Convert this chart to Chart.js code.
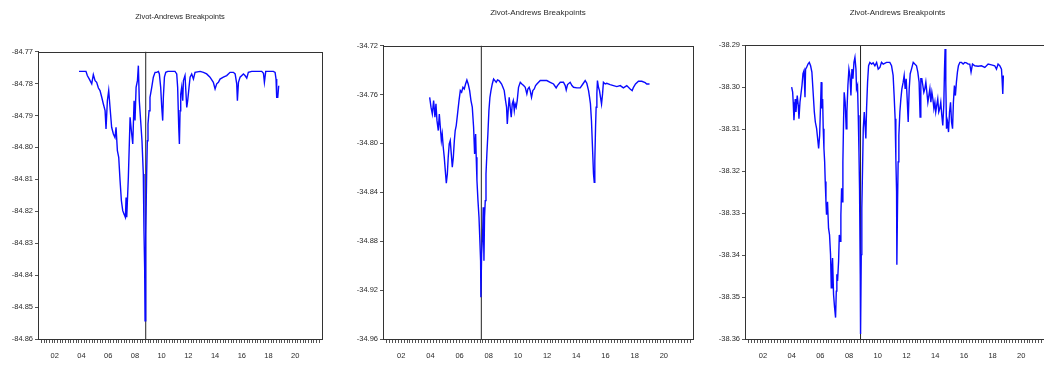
<!DOCTYPE html>
<html>
<head>
<meta charset="utf-8">
<script src="https://cdn.jsdelivr.net/npm/chart.js@4.4.1/dist/chart.umd.min.js"></script>
<style>
  html, body { margin:0; padding:0; background:#fff; width:1044px; height:367px; overflow:hidden; }
  canvas { position:absolute; top:0; }
</style>
</head>
<body>
<canvas id="c1"></canvas>
<canvas id="c2"></canvas>
<canvas id="c3"></canvas>
<script>
// ---------------- DATA ----------------
const chartTitle = 'Zivot-Andrews Breakpoints';
const xLabelYears = [2002, 2004, 2006, 2008, 2010, 2012, 2014, 2016, 2018, 2020];
const xTickLabels = ['02', '04', '06', '08', '10', '12', '14', '16', '18', '20'];

// Panel 1
const p1Years = [2003.82,2004.34,2004.44,2004.59,2004.77,2004.89,2005.02,2005.14,2005.27,2005.39,2005.52,2005.64,2005.77,2005.84,2005.94,2006.04,2006.14,2006.26,2006.39,2006.51,2006.59,2006.69,2006.79,2006.89,2006.99,2007.09,2007.19,2007.29,2007.34,2007.39,2007.44,2007.51,2007.59,2007.64,2007.76,2007.84,2007.94,2008.01,2008.09,2008.19,2008.26,2008.33,2008.43,2008.53,2008.63,2008.68,2008.73,2008.76,2008.81,2008.88,2008.93,2008.98,2009.06,2009.13,2009.26,2009.38,2009.51,2009.63,2009.76,2009.83,2009.93,2010.01,2010.08,2010.13,2010.21,2010.31,2010.46,2010.76,2011.00,2011.13,2011.20,2011.28,2011.33,2011.38,2011.43,2011.50,2011.58,2011.63,2011.75,2011.88,2011.95,2012.05,2012.13,2012.25,2012.38,2012.50,2012.88,2013.13,2013.37,2013.62,2013.87,2014.00,2014.12,2014.25,2014.37,2014.62,2014.87,2015.12,2015.37,2015.50,2015.62,2015.67,2015.75,2015.87,2016.12,2016.24,2016.37,2016.49,2016.74,2017.49,2017.62,2017.69,2017.79,2018.36,2018.49,2018.56,2018.61,2018.69,2018.76];
const p1Values = [-84.7762,-84.7762,-84.7775,-84.7786,-84.7801,-84.7772,-84.7791,-84.7796,-84.7814,-84.7822,-84.7843,-84.7864,-84.7885,-84.7942,-84.7854,-84.7822,-84.7875,-84.7937,-84.7958,-84.7969,-84.7937,-84.8010,-84.8031,-84.8104,-84.8167,-84.8198,-84.8209,-84.8219,-84.8157,-84.8219,-84.8167,-84.8094,-84.7979,-84.7906,-84.7958,-84.7989,-84.7854,-84.7916,-84.7812,-84.7791,-84.7744,-84.7854,-84.7916,-84.7979,-84.8083,-84.8261,-84.8376,-84.8543,-84.8272,-84.8083,-84.7979,-84.7927,-84.7885,-84.7843,-84.7812,-84.7780,-84.7765,-84.7765,-84.7762,-84.7770,-84.7812,-84.7875,-84.7916,-84.7843,-84.7780,-84.7765,-84.7762,-84.7762,-84.7762,-84.7770,-84.7812,-84.7937,-84.7989,-84.7885,-84.7833,-84.7812,-84.7854,-84.7791,-84.7775,-84.7875,-84.7854,-84.7812,-84.7780,-84.7770,-84.7786,-84.7765,-84.7762,-84.7765,-84.7770,-84.7780,-84.7796,-84.7817,-84.7801,-84.7796,-84.7786,-84.7780,-84.7775,-84.7765,-84.7765,-84.7770,-84.7801,-84.7854,-84.7796,-84.7780,-84.7770,-84.7775,-84.7783,-84.7765,-84.7762,-84.7762,-84.7768,-84.7796,-84.7762,-84.7762,-84.7765,-84.7786,-84.7843,-84.7843,-84.7807];
const p1Break = 2008.81;
const p1YTicks = [-84.86,-84.85,-84.84,-84.83,-84.82,-84.81,-84.80,-84.79,-84.78,-84.77];

// Panel 2
const p2Years = [2003.95,2004.04,2004.13,2004.22,2004.31,2004.38,2004.45,2004.54,2004.61,2004.68,2004.75,2004.81,2004.88,2004.95,2005.02,2005.09,2005.16,2005.22,2005.29,2005.36,2005.43,2005.50,2005.57,2005.64,2005.70,2005.77,2005.86,2005.96,2006.05,2006.14,2006.23,2006.32,2006.41,2006.50,2006.59,2006.69,2006.78,2006.87,2006.96,2007.03,2007.10,2007.14,2007.19,2007.26,2007.33,2007.39,2007.44,2007.46,2007.51,2007.58,2007.62,2007.67,2007.71,2007.76,2007.81,2007.87,2007.94,2008.01,2008.08,2008.15,2008.24,2008.33,2008.42,2008.51,2008.60,2008.70,2008.79,2008.88,2008.97,2009.06,2009.15,2009.22,2009.27,2009.33,2009.40,2009.47,2009.54,2009.61,2009.68,2009.75,2009.81,2009.88,2009.95,2010.04,2010.16,2010.27,2010.39,2010.50,2010.61,2010.68,2010.77,2010.84,2010.93,2011.02,2011.12,2011.21,2011.30,2011.53,2011.75,2011.98,2012.21,2012.44,2012.62,2012.71,2012.90,2013.12,2013.24,2013.31,2013.40,2013.58,2013.70,2013.81,2014.04,2014.27,2014.45,2014.61,2014.72,2014.84,2014.91,2014.97,2015.04,2015.11,2015.18,2015.23,2015.27,2015.32,2015.36,2015.41,2015.45,2015.52,2015.59,2015.66,2015.73,2015.80,2015.86,2015.98,2016.09,2016.32,2016.55,2016.78,2017.01,2017.23,2017.46,2017.69,2017.83,2017.92,2018.06,2018.26,2018.49,2018.72,2018.83,2019.02];
const p2Values = [-34.7623,-34.7704,-34.7759,-34.7650,-34.7786,-34.7677,-34.7814,-34.7895,-34.7759,-34.7868,-34.7977,-34.7923,-34.8032,-34.8114,-34.8223,-34.8326,-34.8250,-34.8114,-34.8004,-34.7977,-34.8086,-34.8195,-34.8114,-34.7977,-34.7895,-34.7854,-34.7759,-34.7650,-34.7568,-34.7582,-34.7541,-34.7555,-34.7514,-34.7481,-34.7514,-34.7568,-34.7650,-34.7704,-34.7868,-34.8086,-34.7923,-34.8114,-34.8304,-34.8468,-34.8604,-34.8795,-34.8959,-34.9259,-34.8904,-34.8741,-34.8523,-34.8959,-34.8604,-34.8468,-34.8250,-34.8086,-34.7923,-34.7732,-34.7623,-34.7568,-34.7514,-34.7473,-34.7486,-34.7500,-34.7481,-34.7486,-34.7500,-34.7514,-34.7541,-34.7568,-34.7650,-34.7704,-34.7841,-34.7732,-34.7623,-34.7704,-34.7786,-34.7677,-34.7650,-34.7732,-34.7677,-34.7704,-34.7650,-34.7541,-34.7500,-34.7514,-34.7527,-34.7541,-34.7595,-34.7555,-34.7541,-34.7568,-34.7623,-34.7568,-34.7555,-34.7527,-34.7514,-34.7486,-34.7486,-34.7486,-34.7500,-34.7514,-34.7546,-34.7527,-34.7500,-34.7500,-34.7527,-34.7563,-34.7519,-34.7500,-34.7527,-34.7541,-34.7546,-34.7546,-34.7514,-34.7486,-34.7508,-34.7568,-34.7623,-34.7677,-34.7814,-34.8032,-34.8250,-34.8318,-34.8141,-34.7868,-34.7704,-34.7595,-34.7486,-34.7541,-34.7568,-34.7623,-34.7677,-34.7595,-34.7500,-34.7514,-34.7508,-34.7519,-34.7527,-34.7535,-34.7527,-34.7546,-34.7527,-34.7555,-34.7568,-34.7541,-34.7514,-34.7492,-34.7492,-34.7503,-34.7514,-34.7514];
const p2Break = 2007.49;
const p2YTicks = [-34.96,-34.92,-34.88,-34.84,-34.80,-34.76,-34.72];

// Panel 3
const p3Years = [2004.00,2004.07,2004.11,2004.16,2004.21,2004.25,2004.30,2004.35,2004.39,2004.46,2004.51,2004.58,2004.65,2004.72,2004.79,2004.86,2004.93,2004.97,2005.04,2005.14,2005.23,2005.32,2005.41,2005.51,2005.58,2005.65,2005.74,2005.81,2005.88,2005.95,2006.02,2006.06,2006.11,2006.16,2006.20,2006.25,2006.30,2006.34,2006.39,2006.43,2006.50,2006.57,2006.64,2006.71,2006.76,2006.81,2006.85,2006.92,2006.99,2007.06,2007.11,2007.15,2007.20,2007.27,2007.32,2007.39,2007.43,2007.48,2007.53,2007.57,2007.62,2007.66,2007.73,2007.80,2007.85,2007.92,2007.99,2008.06,2008.13,2008.20,2008.27,2008.34,2008.41,2008.48,2008.52,2008.59,2008.64,2008.69,2008.73,2008.78,2008.80,2008.85,2008.89,2008.94,2008.99,2009.06,2009.13,2009.17,2009.22,2009.29,2009.36,2009.45,2009.57,2009.68,2009.80,2009.92,2010.03,2010.15,2010.26,2010.38,2010.61,2010.84,2010.96,2011.07,2011.14,2011.21,2011.26,2011.31,2011.33,2011.38,2011.42,2011.47,2011.54,2011.61,2011.68,2011.77,2011.84,2011.91,2011.98,2012.05,2012.12,2012.19,2012.26,2012.35,2012.47,2012.58,2012.70,2012.79,2012.88,2012.95,2013.00,2013.07,2013.14,2013.21,2013.28,2013.35,2013.42,2013.49,2013.56,2013.63,2013.70,2013.77,2013.84,2013.91,2013.98,2014.04,2014.11,2014.18,2014.25,2014.32,2014.39,2014.46,2014.53,2014.60,2014.65,2014.69,2014.74,2014.79,2014.86,2014.93,2015.00,2015.07,2015.14,2015.21,2015.27,2015.34,2015.41,2015.48,2015.55,2015.62,2015.72,2015.83,2015.95,2016.06,2016.18,2016.30,2016.41,2016.50,2016.60,2016.76,2016.99,2017.22,2017.46,2017.69,2017.92,2018.15,2018.27,2018.38,2018.50,2018.62,2018.66,2018.71,2018.75];
const p3Values = [-38.3000,-38.3012,-38.3036,-38.3079,-38.3051,-38.3028,-38.3059,-38.3036,-38.3020,-38.3043,-38.3075,-38.3036,-38.3016,-38.2996,-38.2968,-38.2961,-38.3024,-38.2957,-38.2953,-38.2945,-38.2941,-38.2949,-38.2964,-38.3020,-38.3059,-38.3083,-38.3099,-38.3122,-38.3146,-38.3115,-38.3036,-38.2988,-38.3051,-38.3028,-38.3099,-38.3146,-38.3178,-38.3225,-38.3273,-38.3304,-38.3273,-38.3336,-38.3352,-38.3399,-38.3478,-38.3430,-38.3407,-38.3494,-38.3525,-38.3549,-38.3486,-38.3446,-38.3462,-38.3415,-38.3352,-38.3367,-38.3304,-38.3241,-38.3273,-38.3178,-38.3075,-38.3012,-38.3036,-38.3099,-38.3059,-38.2996,-38.2957,-38.2972,-38.3020,-38.2957,-38.2980,-38.2941,-38.2929,-38.2957,-38.3004,-38.2996,-38.3067,-38.3154,-38.3241,-38.3446,-38.3588,-38.3399,-38.3288,-38.3194,-38.3099,-38.3059,-38.3099,-38.3122,-38.3051,-38.2988,-38.2949,-38.2941,-38.2945,-38.2942,-38.2949,-38.2941,-38.2957,-38.2953,-38.2941,-38.2945,-38.2941,-38.2941,-38.2949,-38.2972,-38.3020,-38.3075,-38.3170,-38.3249,-38.3423,-38.3273,-38.3178,-38.3115,-38.3059,-38.3028,-38.3004,-38.2988,-38.2972,-38.3004,-38.2980,-38.3028,-38.3083,-38.3004,-38.2968,-38.2957,-38.2941,-38.2945,-38.2949,-38.2964,-38.2988,-38.3071,-38.2980,-38.2980,-38.2996,-38.3012,-38.3004,-38.2988,-38.3012,-38.3036,-38.3020,-38.3004,-38.3036,-38.3012,-38.3028,-38.3051,-38.3036,-38.3059,-38.3043,-38.3028,-38.3059,-38.3051,-38.3036,-38.3067,-38.3091,-38.3043,-38.2957,-38.2909,-38.2988,-38.3099,-38.3083,-38.3107,-38.3059,-38.3036,-38.3083,-38.3099,-38.3036,-38.2996,-38.3020,-38.2988,-38.2964,-38.2949,-38.2941,-38.2941,-38.2945,-38.2941,-38.2942,-38.2945,-38.2945,-38.2964,-38.2945,-38.2949,-38.2950,-38.2949,-38.2953,-38.2945,-38.2947,-38.2949,-38.2957,-38.2945,-38.2949,-38.2957,-38.2980,-38.3016,-38.2972];
const p3Break = 2008.80;
const p3YTicks = [-38.36,-38.35,-38.34,-38.33,-38.32,-38.31,-38.30,-38.29];

// ---------------- LAYOUT / STYLE ----------------
const X_MIN = 2000.75, X_MAX = 2022.0;
const FONT = 'Liberation Sans, Arial, sans-serif';
const TEXT_COLOR = '#2a2a2a';
const AXIS_COLOR = '#333';

const panels = [
  { id:'c1', left:0,   width:340, years:p1Years, values:p1Values, brk:p1Break, yTicks:p1YTicks,
    yw:38, padRight:18, xh:28, titlePadTop:12.5, titlePadBottom:30.1, titleSize:7.5 },
  { id:'c2', left:340, width:360, years:p2Years, values:p2Values, brk:p2Break, yTicks:p2YTicks,
    yw:43, padRight:7, xh:28, titlePadTop:7.8, titlePadBottom:28.2, titleSize:8 },
  { id:'c3', left:700, width:370, years:p3Years, values:p3Values, brk:p3Break, yTicks:p3YTicks,
    yw:45, padRight:20, xh:28, titlePadTop:7.8, titlePadBottom:27.8, titleSize:8 }
];

// minor tick positions on the time axis (5 per year)
const minorTicks = [];
for (let yr = 2001; yr <= 2021; yr++) for (let k = 0; k < 5; k++) minorTicks.push(yr + k / 5);

const framePlugin = {
  id: 'frame',
  afterDraw(chart) {
    const a = chart.chartArea, ctx = chart.ctx;
    ctx.save();
    ctx.strokeStyle = AXIS_COLOR;
    ctx.lineWidth = 1;
    ctx.strokeRect(Math.round(a.left) + 0.5, Math.round(a.top) + 0.5,
                   Math.round(a.right - a.left), Math.round(a.bottom - a.top));
    ctx.restore();
  }
};

panels.forEach(p => {
  const cv = document.getElementById(p.id);
  cv.width = p.width; cv.height = 367;
  cv.style.left = p.left + 'px';
  cv.style.width = p.width + 'px'; cv.style.height = '367px';
  const yMin = Math.min(...p.yTicks), yMax = Math.max(...p.yTicks);
  new Chart(cv, {
    type: 'line',
    data: {
      datasets: [
        { data: p.years.map((x, i) => ({ x, y: p.values[i] })),
          borderColor: '#0a0aff', borderWidth: 1.4, pointRadius: 0, tension: 0 },
        { data: [{ x: p.brk, y: yMin }, { x: p.brk, y: yMax }],
          borderColor: '#222', borderWidth: 1, pointRadius: 0 }
      ]
    },
    options: {
      responsive: false, animation: false, devicePixelRatio: 1,
      layout: { padding: { left: 0, right: p.padRight, top: 0, bottom: 0 } },
      plugins: {
        legend: { display: false }, tooltip: { enabled: false },
        title: { display: true, text: chartTitle, fullSize: false, color: TEXT_COLOR,
                 font: { family: FONT, size: p.titleSize, weight: 'normal', lineHeight: 1.2 },
                 padding: { top: p.titlePadTop, bottom: p.titlePadBottom } }
      },
      scales: {
        x: {
          type: 'linear', min: X_MIN, max: X_MAX,
          afterBuildTicks: s => { s.ticks = minorTicks.map(v => ({ value: v })); },
          afterFit: s => { s.height = p.xh; },
          ticks: {
            autoSkip: false, maxRotation: 0, minRotation: 0, padding: 8,
            color: TEXT_COLOR, font: { family: FONT, size: 7.5 },
            callback: v => {
              const i = xLabelYears.findIndex(y => Math.abs(y - v) < 1e-6);
              return i >= 0 ? xTickLabels[i] : '';
            }
          },
          grid: { drawOnChartArea: false, drawTicks: true, tickLength: 4, color: '#555' },
          border: { color: AXIS_COLOR, width: 1 }
        },
        y: {
          min: yMin, max: yMax,
          afterBuildTicks: s => { s.ticks = p.yTicks.map(v => ({ value: v })); },
          afterFit: s => { s.width = p.yw; },
          ticks: { padding: 2, color: TEXT_COLOR, font: { family: FONT, size: 7.5 },
                   callback: v => Number(v).toFixed(2) },
          grid: { drawOnChartArea: false, drawTicks: true, tickLength: 3, color: '#555' },
          border: { color: AXIS_COLOR, width: 1 }
        }
      }
    },
    plugins: [framePlugin]
  });
});
</script>
</body>
</html>
